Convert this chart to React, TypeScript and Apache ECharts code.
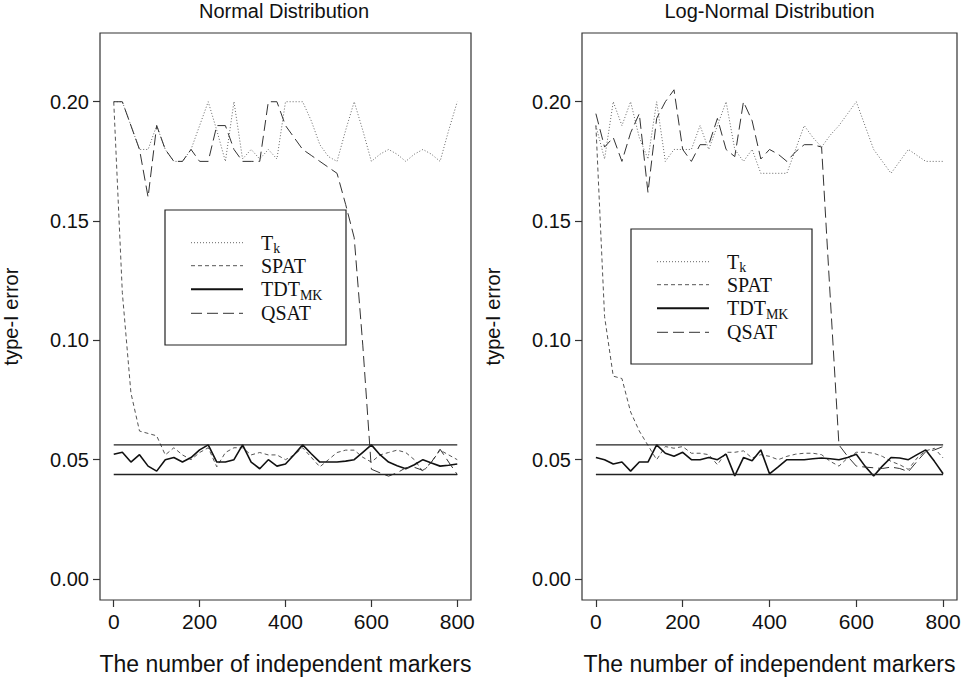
import React, { useEffect, useRef } from "react";
import * as echarts from "echarts";

const markers = [0, 20, 40, 60, 80, 100, 120, 140, 160, 180, 200, 220, 240, 260, 280, 300, 320, 340, 360, 380, 400, 420, 440, 460, 480, 500, 520, 540, 560, 580, 600, 620, 640, 660, 680, 700, 720, 740, 760, 780, 800];

const tkNormal = [0.200, 0.200, 0.190, 0.180, 0.180, 0.190, 0.180, 0.175, 0.175, 0.180, 0.190, 0.200, 0.188, 0.175, 0.200, 0.176, 0.180, 0.176, 0.180, 0.176, 0.200, 0.200, 0.200, 0.192, 0.182, 0.177, 0.175, 0.188, 0.200, 0.188, 0.175, 0.178, 0.180, 0.178, 0.175, 0.178, 0.180, 0.178, 0.175, 0.188, 0.200];
const spatNormal = [0.200, 0.120, 0.078, 0.062, 0.061, 0.060, 0.052, 0.055, 0.052, 0.050, 0.053, 0.055, 0.047, 0.053, 0.055, 0.055, 0.052, 0.053, 0.052, 0.052, 0.050, 0.052, 0.055, 0.051, 0.047, 0.050, 0.053, 0.054, 0.054, 0.051, 0.049, 0.052, 0.053, 0.054, 0.053, 0.050, 0.045, 0.049, 0.054, 0.052, 0.050];
const tdtNormal = [0.0523, 0.0531, 0.0490, 0.0521, 0.0473, 0.0452, 0.0500, 0.0509, 0.0490, 0.0509, 0.0541, 0.0562, 0.0490, 0.0490, 0.0500, 0.0562, 0.0490, 0.0462, 0.0500, 0.0473, 0.0482, 0.0521, 0.0562, 0.0525, 0.0490, 0.0490, 0.0490, 0.0494, 0.0500, 0.0531, 0.0562, 0.0521, 0.0490, 0.0475, 0.0462, 0.0479, 0.0500, 0.0486, 0.0473, 0.0477, 0.0482];
const qsatNormal = [0.200, 0.200, 0.190, 0.180, 0.160, 0.190, 0.180, 0.175, 0.175, 0.180, 0.175, 0.175, 0.190, 0.190, 0.180, 0.175, 0.175, 0.175, 0.200, 0.200, 0.190, 0.185, 0.180, 0.1775, 0.175, 0.1725, 0.170, 0.157, 0.143, 0.098, 0.046, 0.0445, 0.0431, 0.0445, 0.0466, 0.0468, 0.0455, 0.049, 0.0544, 0.049, 0.0438];

const tkLog = [0.190, 0.176, 0.200, 0.190, 0.200, 0.185, 0.176, 0.200, 0.175, 0.180, 0.180, 0.180, 0.190, 0.180, 0.190, 0.200, 0.180, 0.175, 0.180, 0.170, 0.170, 0.170, 0.170, 0.180, 0.190, 0.185, 0.181, 0.186, 0.190, 0.195, 0.200, 0.190, 0.180, 0.175, 0.170, 0.175, 0.180, 0.1775, 0.175, 0.175, 0.175];
const spatLog = [0.190, 0.110, 0.085, 0.084, 0.070, 0.062, 0.056, 0.050, 0.0555, 0.0548, 0.0555, 0.0527, 0.0527, 0.0521, 0.0479, 0.0531, 0.0531, 0.0537, 0.0507, 0.0521, 0.0514, 0.0500, 0.0514, 0.0523, 0.0527, 0.0527, 0.0521, 0.0493, 0.0473, 0.0507, 0.0531, 0.0531, 0.0527, 0.0514, 0.0493, 0.0479, 0.0459, 0.0507, 0.0537, 0.0548, 0.0507];
const tdtLog = [0.0509, 0.0500, 0.0482, 0.0490, 0.0452, 0.0490, 0.0490, 0.0562, 0.0527, 0.0514, 0.0531, 0.0500, 0.0500, 0.0509, 0.0500, 0.0523, 0.0432, 0.0509, 0.0496, 0.0541, 0.0441, 0.0470, 0.0500, 0.0500, 0.0500, 0.0504, 0.0507, 0.0504, 0.0500, 0.0509, 0.0523, 0.0473, 0.0432, 0.0473, 0.0509, 0.0507, 0.0500, 0.0521, 0.0541, 0.0493, 0.0441];
const qsatLog = [0.195, 0.181, 0.185, 0.175, 0.187, 0.195, 0.162, 0.193, 0.200, 0.205, 0.180, 0.175, 0.182, 0.182, 0.193, 0.180, 0.177, 0.200, 0.192, 0.176, 0.180, 0.178, 0.175, 0.179, 0.182, 0.182, 0.181, 0.118, 0.0562, 0.0514, 0.0473, 0.0469, 0.0466, 0.0463, 0.0469, 0.0463, 0.0450, 0.0493, 0.0534, 0.0541, 0.0555];

const bandX = [0, 800];
const bandUpper = 0.0562;
const bandLower = 0.0438;

const xTicks = [0, 200, 400, 600, 800];
const yTicks = [0, 0.05, 0.1, 0.15, 0.2];
const titles = ["Normal Distribution", "Log-Normal Distribution"];
const xName = "The number of independent markers";
const yName = "type-I error";
const legendNames = ["T", "SPAT", "TDT", "QSAT"];
const legendSubs = ["k", "", "MK", ""];

const SANS = "'Liberation Sans', Arial, Helvetica, sans-serif";
const SERIF = "'Liberation Serif', 'Times New Roman', serif";

const styles = [
  { color: "#666", width: 1, type: [1, 2] as any },
  { color: "#555", width: 1, type: [4, 3] as any },
  { color: "#111", width: 1.6, type: "solid" as any },
  { color: "#333", width: 1, type: [11, 5] as any },
];

const pairs = (vals: number[]) => markers.map((m, i) => [m, vals[i]]);

export default function App() {
  const ref = useRef<HTMLDivElement>(null);
  useEffect(() => {
    const chart = echarts.init(ref.current!, null, { renderer: "svg" });
    const grids = [
      { left: 97, top: 33, width: 374, height: 578 },
      { left: 582, top: 33, width: 375, height: 578 },
    ];
    const panels = [
      [tkNormal, spatNormal, tdtNormal, qsatNormal],
      [tkLog, spatLog, tdtLog, qsatLog],
    ];
    const series: any[] = [];
    panels.forEach((p, gi) => {
      p.forEach((vals, si) => {
        series.push({
          type: "line",
          xAxisIndex: gi,
          yAxisIndex: gi,
          data: pairs(vals),
          showSymbol: false,
          symbol: "none",
          lineStyle: { ...styles[si] },
          z: 2 + si,
        });
      });
      [bandUpper, bandLower].forEach((b) => {
        series.push({
          type: "line",
          xAxisIndex: gi,
          yAxisIndex: gi,
          data: bandX.map((x) => [x, b]),
          showSymbol: false,
          symbol: "none",
          lineStyle: { color: "#222", width: 1.3, type: "solid" },
          z: 8,
        });
      });
    });

    const legendOrigins = [
      { x: 165, y: 210 },
      { x: 631, y: 229 },
    ];
    const rowOffsets = [32.7, 55.7, 79.3, 103.3];
    const graphic: any[] = [];
    legendOrigins.forEach((o) => {
      graphic.push({
        type: "rect",
        shape: { x: o.x, y: o.y, width: 181, height: 135 },
        style: { fill: "none", stroke: "#222", lineWidth: 1.2 },
        z: 20,
      });
      rowOffsets.forEach((dy, i) => {
        const y = o.y + dy;
        graphic.push({
          type: "line",
          shape: { x1: o.x + 26, y1: y, x2: o.x + 78, y2: y },
          style: { stroke: styles[i].color, lineWidth: i === 2 ? 2 : 1, lineDash: Array.isArray(styles[i].type) ? styles[i].type : null },
          z: 20,
        });
        const sub = legendSubs[i];
        graphic.push({
          type: "text",
          x: o.x + 96,
          y: y,
          style: {
            text: sub ? `{m|${legendNames[i]}}{s|${sub}}` : legendNames[i],
            fontFamily: SERIF,
            fontSize: 20,
            fill: "#111",
            verticalAlign: "middle",
            align: "left",
            rich: {
              m: { fontFamily: SERIF, fontSize: 20, fill: "#111", lineHeight: 21 },
              s: { fontFamily: SERIF, fontSize: 14, fill: "#111", lineHeight: 10, padding: [12, 0, 0, 0] },
            },
          },
          z: 20,
        });
      });
    });
    grids.forEach((g, gi) => {
      graphic.push({
        type: "text",
        x: g.left + g.width / 2,
        y: 11,
        style: { text: titles[gi], font: `20px ${SANS}`, fill: "#111", align: "center", verticalAlign: "middle" },
      });
    });

    const option: any = {
      animation: false,
      backgroundColor: "#fff",
      grid: grids.map((g) => ({ ...g, show: true, borderColor: "#333", borderWidth: 1.2, backgroundColor: "transparent" })),
      xAxis: grids.map((_, gi) => ({
        type: "value",
        gridIndex: gi,
        min: -32,
        max: 832,
        name: xName,
        nameLocation: "middle",
        nameGap: 52,
        nameTextStyle: { fontFamily: SANS, fontSize: 23, color: "#111" },
        axisLine: { show: false, onZero: false },
        axisTick: { show: true, customValues: xTicks, length: 7, lineStyle: { color: "#333", width: 1.2 } },
        axisLabel: { customValues: xTicks, fontFamily: SANS, fontSize: 21, color: "#111", margin: 11 },
        splitLine: { show: false },
      })),
      yAxis: grids.map((_, gi) => ({
        type: "value",
        gridIndex: gi,
        min: -0.0088,
        max: 0.2288,
        name: yName,
        nameLocation: "middle",
        nameRotate: 90,
        nameGap: 79,
        nameTextStyle: { fontFamily: SANS, fontSize: 20, color: "#111" },
        axisLine: { show: false, onZero: false },
        axisTick: { show: true, customValues: yTicks, length: 7, lineStyle: { color: "#333", width: 1.2 } },
        axisLabel: { customValues: yTicks, fontFamily: SANS, fontSize: 20, color: "#111", margin: 11, formatter: (v: number) => v.toFixed(2) },
        splitLine: { show: false },
      })),
      series,
      graphic,
    };
    chart.setOption(option);
    return () => chart.dispose();
  }, []);
  return <div ref={ref} style={{ position: "fixed", left: 0, top: 0, width: 964, height: 680 }} />;
}
